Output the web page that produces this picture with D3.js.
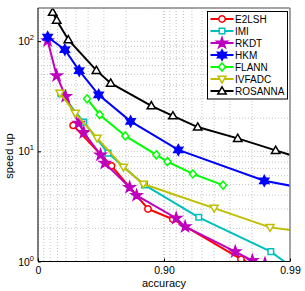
<!DOCTYPE html>
<html>
<head>
<meta charset="utf-8">
<script src="https://cdn.jsdelivr.net/npm/d3@7"></script>
<style>
  body { margin: 0; background: #fff; }
  text { font-family: "Liberation Sans", Arial, sans-serif; }
</style>
</head>
<body>
<svg id="chart" width="305" height="291"></svg>
<script>
// values (accuracy, speed up); last points of some lines lie past the axes
const seriesNames = ["E2LSH", "IMI", "RKDT", "HKM", "FLANN", "IVFADC", "ROSANNA"];
const seriesColors = ["#ff0000", "#00bfbf", "#bf00bf", "#0000ff", "#00ff00", "#bfbf00", "#000000"];
const seriesMarkers = ["circle", "square", "pentagram", "hexagram", "diamond", "triDown", "triUp"];

const e2lshAcc = [0.474, 0.739, 0.866, 0.915, 0.9755, 0.9797];
const e2lshSpeed = [17.2, 7.38, 3.0, 2.42, 1.05, 0.95];
const imiAcc = [0.342, 0.567, 0.722, 0.857, 0.947, 0.9858, 0.9898];
const imiSpeed = [33.3, 18.4, 9.63, 4.96, 2.52, 1.23, 0.93];
const rkdtAcc = [0.162, 0.289, 0.396, 0.526, 0.567, 0.681, 0.705, 0.8126, 0.835, 0.920, 0.932, 0.9728, 0.9801, 0.9842];
const rkdtSpeed = [101, 48.6, 31.5, 18.0, 14.8, 9.29, 7.81, 4.71, 3.98, 2.47, 2.07, 1.23, 1.02, 0.96];
const hkmAcc = [0.162, 0.388, 0.529, 0.670, 0.816, 0.923, 0.984, 0.99206];
const hkmSpeed = [109, 83.6, 54, 32.6, 18.7, 10.3, 5.4, 4.65];
const flannAcc = [0.592, 0.676, 0.797, 0.885, 0.906, 0.941, 0.966];
const flannSpeed = [30.0, 21.5, 13.8, 9.3, 8.07, 6.24, 4.93];
const ivfadcAcc = [0.330, 0.494, 0.661, 0.790, 0.854, 0.960, 0.9856, 0.99151];
const ivfadcSpeed = [33.8, 22.2, 13.2, 7.2, 5.05, 3.05, 2.04, 1.88];
const rosannaAcc = [0.235, 0.289, 0.425, 0.656, 0.735, 0.874, 0.915, 0.946, 0.974, 0.987, 0.99206];
const rosannaSpeed = [183, 155, 103, 54.3, 41.6, 25.9, 21.0, 16.6, 13.1, 10.2, 8.55];

const xTickAcc = [0, 0.90, 0.99];
const xTickLabels = ["0", "0.90", "0.99"];
const yTickValues = [1, 10, 100];
const yTickExp = ["0", "1", "2"];

const accs = [e2lshAcc, imiAcc, rkdtAcc, hkmAcc, flannAcc, ivfadcAcc, rosannaAcc];
const speeds = [e2lshSpeed, imiSpeed, rkdtSpeed, hkmSpeed, flannSpeed, ivfadcSpeed, rosannaSpeed];

const m = { left: 38, right: 290, top: 8, bottom: 261.5 };
const svg = d3.select("#chart");

// x is log of (1 - accuracy), reversed
const x = d3.scaleLog().domain([1, 0.01]).range([m.left, m.right]);
const xa = a => x(1 - a);
const y = d3.scaleLog().domain([1, 200]).range([m.bottom, m.top]);

// grid
const xGrid = [];
[1, 0.1].forEach(d => { for (let k = 10; k >= 1; k--) xGrid.push(d * k / 10); });
const yGrid = [];
[1, 10, 100].forEach(d => { for (let k = 1; k <= 9; k++) if (d * k <= 200) yGrid.push(d * k); });

const grid = svg.append("g").attr("stroke", "#b4b4b4").attr("stroke-width", 0.8)
  .attr("stroke-dasharray", "1,2");
grid.selectAll(".gx").data(xGrid).enter().append("line")
  .attr("x1", d => x(d)).attr("x2", d => x(d))
  .attr("y1", m.top).attr("y2", m.bottom);
grid.selectAll(".gy").data(yGrid).enter().append("line")
  .attr("y1", d => y(d)).attr("y2", d => y(d))
  .attr("x1", m.left).attr("x2", m.right);

// marker shapes
function markerPath(type) {
  const pts = [];
  if (type === "circle") return d3.arc()({ innerRadius: 0, outerRadius: 3.2, startAngle: 0, endAngle: 2 * Math.PI });
  if (type === "square") return "M-2.8,-2.8H2.8V2.8H-2.8Z";
  if (type === "diamond") return "M0,-4L3.5,0L0,4L-3.5,0Z";
  if (type === "triDown") return "M-4,-2.8L4,-2.8L0,4Z";
  if (type === "triUp") return "M0,-4.2L4.2,3L-4.2,3Z";
  if (type === "pentagram") {
    for (let i = 0; i < 10; i++) {
      const r = i % 2 ? 2.2 : 5.6, a = -Math.PI / 2 + i * Math.PI / 5;
      pts.push([r * Math.cos(a), r * Math.sin(a)]);
    }
  }
  if (type === "hexagram") {
    for (let i = 0; i < 12; i++) {
      const r = i % 2 ? 2.9 : 5.2, a = -Math.PI / 2 + i * Math.PI / 6;
      pts.push([r * Math.cos(a), r * Math.sin(a)]);
    }
  }
  return "M" + pts.map(p => p.join(",")).join("L") + "Z";
}
// stars look solid at this size
const markerFill = (type, color) => (type === "pentagram" || type === "hexagram") ? color : "#fff";

svg.append("clipPath").attr("id", "plotclip").append("rect")
  .attr("x", m.left).attr("y", m.top)
  .attr("width", m.right - m.left).attr("height", m.bottom - m.top);

const plot = svg.append("g").attr("clip-path", "url(#plotclip)");
const line = d3.line().x(d => xa(d[0])).y(d => y(d[1]));

seriesNames.forEach((name, i) => {
  const pts = accs[i].map((a, j) => [a, speeds[i][j]]);
  plot.append("path").datum(pts)
    .attr("d", line).attr("fill", "none")
    .attr("stroke", seriesColors[i]).attr("stroke-width", 2);
  plot.selectAll(".mk" + i).data(pts).enter().append("path")
    .attr("d", markerPath(seriesMarkers[i]))
    .attr("transform", d => `translate(${xa(d[0])},${y(d[1])})`)
    .attr("fill", markerFill(seriesMarkers[i], seriesColors[i]))
    .attr("stroke", seriesColors[i]).attr("stroke-width", 1.5);
});

// box
svg.append("line").attr("x1", m.left).attr("x2", m.right).attr("y1", m.top).attr("y2", m.top)
  .attr("stroke", "#888").attr("stroke-width", 1.5);
svg.append("line").attr("x1", m.right).attr("x2", m.right).attr("y1", m.top).attr("y2", m.bottom)
  .attr("stroke", "#888").attr("stroke-width", 1.5);
svg.append("line").attr("x1", m.left).attr("x2", m.right).attr("y1", m.bottom).attr("y2", m.bottom)
  .attr("stroke", "#000").attr("stroke-width", 1);
svg.append("line").attr("x1", m.left).attr("x2", m.left).attr("y1", m.top).attr("y2", m.bottom)
  .attr("stroke", "#000").attr("stroke-width", 1);

// ticks
const xAxis = d3.axisBottom(x).tickValues(xTickAcc.map(a => 1 - a))
  .tickSize(-3).tickPadding(5).tickFormat((d, i) => xTickLabels[i]);
const gx = svg.append("g").attr("transform", `translate(0,${m.bottom})`).call(xAxis);
gx.select(".domain").remove();
gx.selectAll("text").attr("font-size", 10.5).attr("fill", "#000")
  .attr("font-family", "Liberation Sans, Arial, sans-serif");

const yAxis = d3.axisLeft(y).tickValues(yTickValues).tickSize(-3).tickFormat("");
const gy = svg.append("g").attr("transform", `translate(${m.left},0)`).call(yAxis);
gy.select(".domain").remove();

const yl = svg.append("g").selectAll("text").data(yTickValues).enter().append("text")
  .attr("x", 34).attr("y", d => y(d) + 4)
  .attr("text-anchor", "end").attr("font-size", 10.5);
yl.append("tspan").text("10");
yl.append("tspan").attr("dy", -5).attr("font-size", 7.5).text((d, i) => yTickExp[i]);

// axis labels
svg.append("text").attr("x", 164).attr("y", 286.5).attr("text-anchor", "middle")
  .attr("font-size", 11).text("accuracy");
svg.append("text").attr("transform", "translate(13,156) rotate(-90)")
  .attr("text-anchor", "middle").attr("font-size", 11).text("speed up");

// legend
const lg = svg.append("g");
lg.append("rect").attr("x", 207.5).attr("y", 11.5).attr("width", 80).attr("height", 87.5)
  .attr("fill", "#fff").attr("stroke", "#000").attr("stroke-width", 1);
seriesNames.forEach((name, i) => {
  const ly = 19 + i * 12;
  lg.append("line").attr("x1", 210.5).attr("x2", 233.5).attr("y1", ly).attr("y2", ly)
    .attr("stroke", seriesColors[i]).attr("stroke-width", 2);
  lg.append("path").attr("d", markerPath(seriesMarkers[i]))
    .attr("transform", `translate(222,${ly})`)
    .attr("fill", markerFill(seriesMarkers[i], seriesColors[i]))
    .attr("stroke", seriesColors[i]).attr("stroke-width", 1.5);
  lg.append("text").attr("x", 235).attr("y", ly + 3.6).attr("font-size", 10).text(name);
});
</script>
</body>
</html>
